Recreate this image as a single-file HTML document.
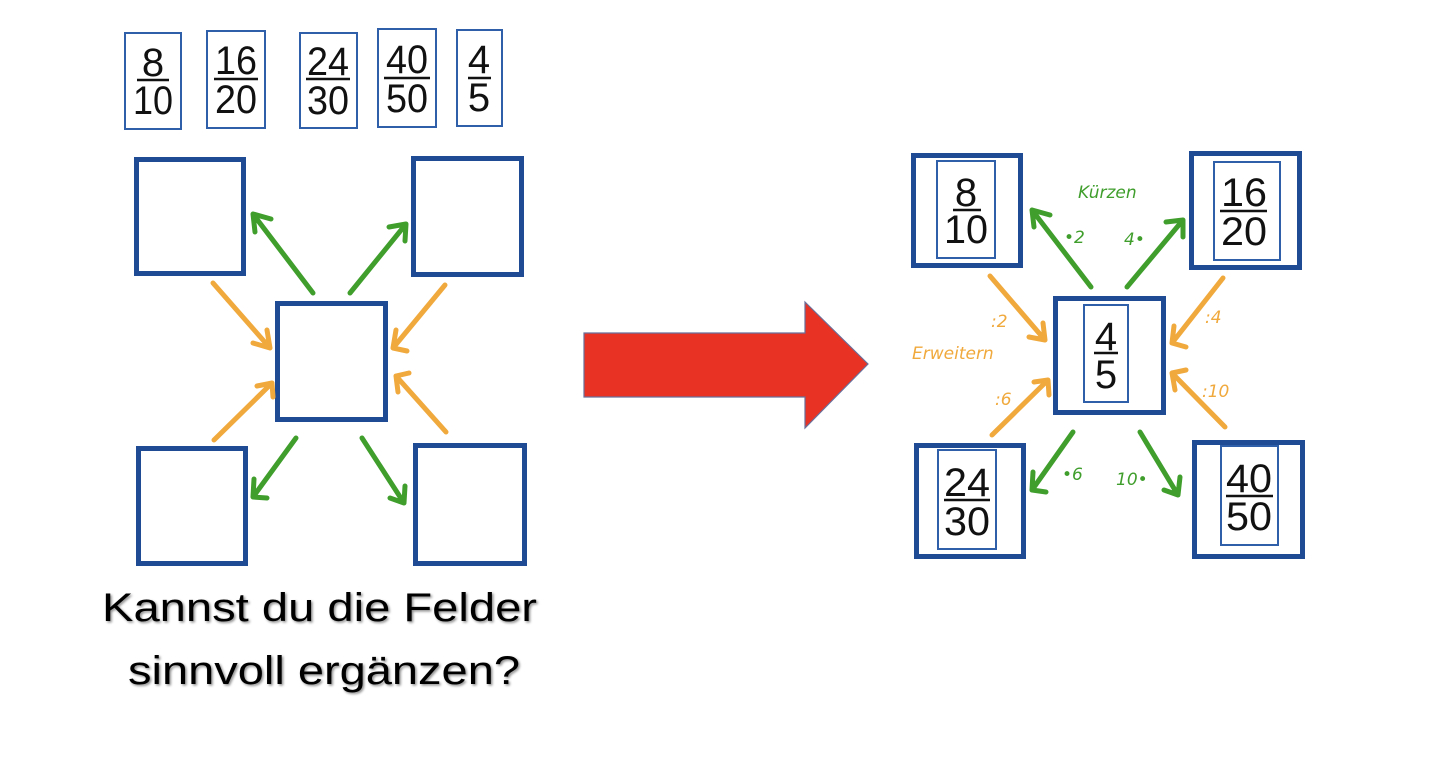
<!DOCTYPE html>
<html><head><meta charset="utf-8"><style>
html,body{margin:0;padding:0;background:#fff;}
svg{display:block;}
.f{font-family:"Liberation Sans",sans-serif;fill:#111;text-anchor:middle;}
.h{font-family:"DejaVu Sans","Liberation Sans",sans-serif;font-style:italic;}
</style></head><body>
<svg width="1440" height="773" viewBox="0 0 1440 773" xmlns="http://www.w3.org/2000/svg">
<defs>
<filter id="sh" x="-5%" y="-20%" width="110%" height="140%"><feDropShadow dx="1.5" dy="1.5" stdDeviation="1.2" flood-color="#000" flood-opacity="0.45"/></filter>
</defs>
<g fill="none" stroke="#2f5fa8" stroke-width="2">
<rect x="125" y="33" width="56" height="96"/>
<rect x="207" y="31" width="58" height="97"/>
<rect x="300" y="33" width="57" height="95"/>
<rect x="378" y="29" width="58" height="98"/>
<rect x="457" y="30" width="45" height="96"/>
</g>
<g class="f" font-size="40">
<text x="153" y="76">8</text><text x="153" y="114" textLength="40" lengthAdjust="spacingAndGlyphs">10</text>
<text x="236" y="74" textLength="42" lengthAdjust="spacingAndGlyphs">16</text><text x="236" y="113" textLength="42" lengthAdjust="spacingAndGlyphs">20</text>
<text x="328" y="75" textLength="42" lengthAdjust="spacingAndGlyphs">24</text><text x="328" y="114" textLength="42" lengthAdjust="spacingAndGlyphs">30</text>
<text x="407" y="73" textLength="42" lengthAdjust="spacingAndGlyphs">40</text><text x="407" y="112" textLength="42" lengthAdjust="spacingAndGlyphs">50</text>
<text x="479" y="73">4</text><text x="479" y="111">5</text>
</g>
<g stroke="#111" stroke-width="2.5">
<line x1="137" y1="80" x2="169" y2="80"/><line x1="214" y1="79" x2="258" y2="79"/>
<line x1="306" y1="79" x2="350" y2="79"/><line x1="384" y1="78" x2="430" y2="78"/>
<line x1="468" y1="78" x2="491" y2="78"/>
</g>
<g fill="none" stroke="#1f4b94" stroke-width="5">
<rect x="136.5" y="159.5" width="107" height="114"/>
<rect x="413.5" y="158.5" width="108" height="116"/>
<rect x="277.5" y="303.5" width="108" height="116"/>
<rect x="138.5" y="448.5" width="107" height="115"/>
<rect x="415.5" y="445.5" width="109" height="118"/>
</g>
<g fill="none" stroke-width="5" stroke-linecap="round" stroke-linejoin="round">
<g stroke="#3f9e2c">
<path d="M313 293 L253 214 M255 232 L253 214 L271 219"/>
<path d="M350 293 L406 224 M389 227 L406 224 L405 241"/>
<path d="M296 438 L253 497 M254 479 L253 497 L267 498"/>
<path d="M362 438 L404 503 M390 498 L404 503 L405 486"/>
</g>
<g stroke="#f0a93c">
<path d="M213 283 L270 348 M267 330 L270 348 L253 343"/>
<path d="M445 285 L393 348 M396 330 L393 348 L407 351"/>
<path d="M214 440 L272 383 M257 386 L272 383 L273 397"/>
<path d="M446 432 L396 376 M409 373 L396 376 L398 392"/>
</g>
</g>
<g filter="url(#sh)" font-family="Liberation Sans,sans-serif" font-size="40" fill="#000">
<text x="102" y="621" textLength="435" lengthAdjust="spacingAndGlyphs">Kannst du die Felder</text>
<text x="128" y="684" textLength="392" lengthAdjust="spacingAndGlyphs">sinnvoll ergänzen?</text>
</g>
<polygon points="584,333 805,333 805,302 868,364 805,428 805,397 584,397" fill="#e83223" stroke="#6a6f9a" stroke-width="1.2"/>
<g fill="none" stroke="#1f4b94" stroke-width="5">
<rect x="913.5" y="155.5" width="107" height="110"/>
<rect x="1191.5" y="153.5" width="108" height="114"/>
<rect x="1055.5" y="298.5" width="108" height="114"/>
<rect x="916.5" y="445.5" width="107" height="111"/>
<rect x="1194.5" y="442.5" width="108" height="114"/>
</g>
<g fill="none" stroke="#2f5fa8" stroke-width="2">
<rect x="937" y="161" width="58" height="97"/>
<rect x="1214" y="162" width="66" height="98"/>
<rect x="1084" y="305" width="44" height="97"/>
<rect x="938" y="450" width="58" height="99"/>
<rect x="1221" y="446" width="57" height="99"/>
</g>
<g class="f" font-size="40">
<text x="966" y="206">8</text><text x="966" y="243" textLength="44" lengthAdjust="spacingAndGlyphs">10</text>
<text x="1244" y="206" textLength="46" lengthAdjust="spacingAndGlyphs">16</text><text x="1244" y="245" textLength="46" lengthAdjust="spacingAndGlyphs">20</text>
<text x="1106" y="350">4</text><text x="1106" y="388">5</text>
<text x="967" y="496" textLength="46" lengthAdjust="spacingAndGlyphs">24</text><text x="967" y="535" textLength="46" lengthAdjust="spacingAndGlyphs">30</text>
<text x="1249" y="492" textLength="46" lengthAdjust="spacingAndGlyphs">40</text><text x="1249" y="530" textLength="46" lengthAdjust="spacingAndGlyphs">50</text>
</g>
<g stroke="#111" stroke-width="2.5">
<line x1="953" y1="210" x2="981" y2="210"/><line x1="1220" y1="211" x2="1267" y2="211"/>
<line x1="1094" y1="353" x2="1118" y2="353"/><line x1="944" y1="500" x2="990" y2="500"/>
<line x1="1226" y1="496" x2="1273" y2="496"/>
</g>
<g fill="none" stroke-width="5" stroke-linecap="round" stroke-linejoin="round">
<g stroke="#3f9e2c">
<path d="M1091 287 L1032 210 M1034 227 L1032 210 L1050 215"/>
<path d="M1127 287 L1183 220 M1166 222 L1183 220 L1183 237"/>
<path d="M1073 432 L1032 490 M1033 472 L1032 490 L1046 492"/>
<path d="M1140 432 L1178 495 M1164 490 L1178 495 L1180 477"/>
</g>
<g stroke="#f0a93c">
<path d="M990 276 L1045 340 M1043 323 L1045 340 L1029 337"/>
<path d="M1223 278 L1172 343 M1174 326 L1172 343 L1186 347"/>
<path d="M992 435 L1048 380 M1034 382 L1048 380 L1049 395"/>
<path d="M1225 427 L1172 373 M1186 370 L1172 373 L1175 390"/>
</g>
</g>
<g class="h" font-size="17" fill="#3f9e2c">
<text x="1078" y="198">Kürzen</text>
<text x="1064" y="243">•2</text>
<text x="1124" y="245">4•</text>
<text x="1062" y="480">•6</text>
<text x="1116" y="485">10•</text>
</g>
<g class="h" font-size="17" fill="#f0a93c">
<text x="991" y="327">:2</text>
<text x="912" y="359">Erweitern</text>
<text x="1205" y="323">:4</text>
<text x="995" y="405">:6</text>
<text x="1202" y="397">:10</text>
</g>
</svg>
</body></html>
